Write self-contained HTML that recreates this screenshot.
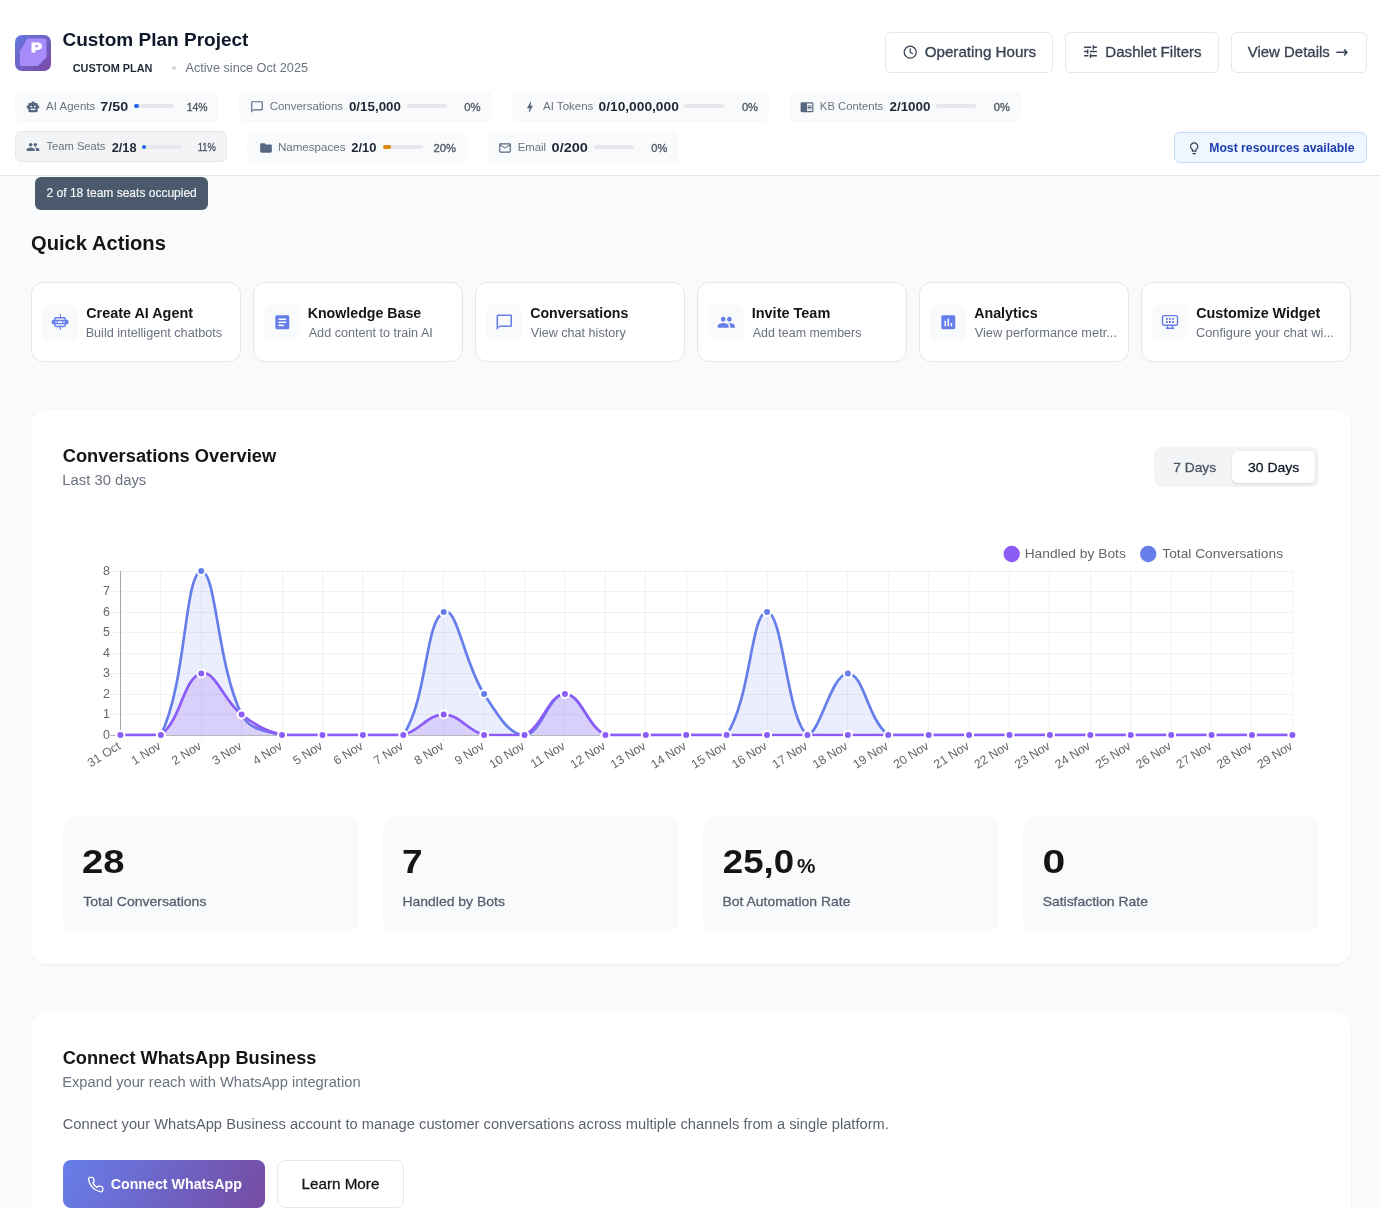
<!DOCTYPE html>
<html lang="en">
<head>
<meta charset="utf-8">
<title>Custom Plan Project</title>
<style>
*{box-sizing:border-box;margin:0;padding:0}
html,body{width:1380px;height:1208px;overflow:hidden}
body{font-family:"Liberation Sans",sans-serif;background:#f9fafb;color:#111827;position:relative}
.t{position:absolute;white-space:nowrap;display:block;transform-origin:0 0}
svg{display:block;overflow:visible}
</style>
</head>
<body>
<div style="position:absolute;left:0.00px;top:0.00px;width:1380.00px;height:176.00px;background:#fff;border-bottom:1px solid #e5e7eb"></div>
<svg style="position:absolute;left:15.00px;top:35.00px;" width="36" height="36" viewBox="0 0 36 36">
<defs><linearGradient id="lg" x1="0" y1="0" x2="1" y2="1"><stop offset="0" stop-color="#6678e2"/><stop offset="1" stop-color="#7a4aa6"/></linearGradient></defs>
<rect width="36" height="36" rx="7" fill="url(#lg)"/>
<path d="M13.5 3.5H29.5a2 2 0 0 1 2 2V21.5a2 2 0 0 1 -.6 1.4L23.4 30.4a2 2 0 0 1 -1.4.6H6.8a2 2 0 0 1 -2-2V17a2 2 0 0 1 .3-1L11.8 4.5a2 2 0 0 1 1.7-1z" fill="#a78bfa"/>
<text transform="translate(16.300 16.600) scale(1.27 1)" font-family="Liberation Sans, sans-serif" font-size="12.500" font-weight="bold" fill="#fff" stroke="#fff" stroke-width="1.200" stroke-linejoin="miter">P</text>
</svg>
<span id="title" class="t" style="left:62px;top:29px;font-size:18px;line-height:22px;font-weight:bold;color:#0f172a;transform:translate(0.39px,0.36px) scaleX(1.0570);">Custom Plan Project</span>
<span id="plan" class="t" style="left:72px;top:61px;font-size:10px;line-height:14px;font-weight:bold;color:#1f2937;transform:translate(0.65px,0.73px) scaleX(1.0907);">CUSTOM PLAN</span>
<div style="position:absolute;left:171.80px;top:66.30px;width:4.00px;height:4.00px;border-radius:50%;background:#d1d5db"></div>
<span id="since" class="t" style="left:185px;top:60px;font-size:12px;line-height:16px;font-weight:normal;color:#6b7280;transform:translate(0.50px,0.04px) scaleX(1.0555);">Active since Oct 2025</span>
<div style="position:absolute;left:885.00px;top:32.00px;width:168.00px;height:41.00px;border:1px solid #e5e7eb;border-radius:6px;background:#fff"></div>
<div style="position:absolute;left:1065.00px;top:32.00px;width:154.00px;height:41.00px;border:1px solid #e5e7eb;border-radius:6px;background:#fff"></div>
<div style="position:absolute;left:1231.00px;top:32.00px;width:136.00px;height:41.00px;border:1px solid #e5e7eb;border-radius:6px;background:#fff"></div>
<svg style="position:absolute;left:902.50px;top:45.30px;" width="14.4" height="14.4" viewBox="0 0 24 24"><circle cx="12" cy="12" r="10" fill="none" stroke="#374151" stroke-width="2"/><path d="M12 6.5V12l3.8 2.3" fill="none" stroke="#374151" stroke-width="2" stroke-linecap="round" stroke-linejoin="round"/></svg>
<span id="b1" class="t" style="left:924px;top:43px;font-size:14.2px;line-height:18.2px;font-weight:normal;color:#374151;transform:translate(0.68px,0.08px) scaleX(1.0700);-webkit-text-stroke:.28px currentColor;">Operating Hours</span>
<svg style="position:absolute;left:1081.80px;top:43.30px;" width="17" height="17" viewBox="0 0 24 24"><path d="M3 17v2h6v-2H3zM3 5v2h10V5H3zm10 16v-2h8v-2h-8v-2h-2v6h2zM7 9v2H3v2h4v2h2V9H7zm14 4v-2H11v2h10zm-6-4h2V7h4V5h-4V3h-2v6z" fill="#374151"/></svg>
<span id="b2" class="t" style="left:1105px;top:43px;font-size:14.2px;line-height:18.2px;font-weight:normal;color:#374151;transform:translate(0.36px,0.08px) scaleX(1.0614);-webkit-text-stroke:.28px currentColor;">Dashlet Filters</span>
<span id="b3" class="t" style="left:1247px;top:43px;font-size:14.2px;line-height:18.2px;font-weight:normal;color:#374151;transform:translate(0.67px,0.08px) scaleX(1.0552);-webkit-text-stroke:.28px currentColor;">View Details</span>
<span id="arr" class="t" style="left:1335px;top:42px;font-size:15.5px;line-height:19.5px;font-weight:normal;color:#374151;transform:translate(0.75px,0.88px) scaleX(0.9593);-webkit-text-stroke:.28px currentColor;font-family:DejaVu Sans,Liberation Sans,sans-serif;">→</span>
<div style="position:absolute;left:15.00px;top:91.00px;width:204.00px;height:30.50px;background:#f9fafb;border-radius:6px"></div>
<svg style="position:absolute;left:26.00px;top:99.90px;" width="14" height="14" viewBox="0 0 24 24"><path d="M20 9V7c0-1.100-.9-2-2-2h-3c0-1.660-1.340-3-3-3S9 3.340 9 5H6c-1.100 0-2 .9-2 2v2c-1.660 0-3 1.340-3 3s1.340 3 3 3v4c0 1.100.9 2 2 2h12c1.100 0 2-.9 2-2v-4c1.660 0 3-1.340 3-3s-1.340-3-3-3zM7.500 11.500c0-.83.670-1.500 1.500-1.500s1.500.670 1.500 1.500S9.830 13 9 13s-1.500-.670-1.500-1.500zM16 17H8v-2h8v2zm-1-4c-.83 0-1.500-.670-1.500-1.500S14.170 10 15 10s1.500.670 1.500 1.500S15.830 13 15 13z" fill="#586883"/></svg>
<span id="c1l" class="t" style="left:46px;top:99px;font-size:11px;line-height:15px;font-weight:normal;color:#6b7280;transform:translate(0.10px,0.19px) scaleX(1.0423);">AI Agents</span>
<span id="c1v" class="t" style="left:100px;top:99px;font-size:12px;line-height:16px;font-weight:bold;color:#1f2937;transform:translate(0.27px,0.24px) scaleX(1.1938);">7/50</span>
<div style="position:absolute;left:134.00px;top:104.30px;width:40.00px;height:4.20px;background:#e5e7eb;border-radius:2px"><div style="width:4.8px;height:4px;border-radius:2px;background:#2563eb"></div></div>
<span id="c1p" class="t" style="left:186px;top:101px;font-size:10px;line-height:14px;font-weight:normal;color:#4b5563;transform:translate(0.67px,0.14px) scaleX(1.0453);-webkit-text-stroke:.28px currentColor;">14%</span>
<div style="position:absolute;left:239.00px;top:91.00px;width:252.80px;height:30.50px;background:#f9fafb;border-radius:6px"></div>
<svg style="position:absolute;left:249.60px;top:99.90px;" width="14" height="14" viewBox="0 0 24 24"><path d="M20 2H4c-1.100 0-2 .9-2 2v18l4-4h14c1.100 0 2-.9 2-2V4c0-1.100-.9-2-2-2zm0 14H6l-2 2V4h16v12z" fill="#586883"/></svg>
<span id="c2l" class="t" style="left:269px;top:99px;font-size:11px;line-height:15px;font-weight:normal;color:#6b7280;transform:translate(0.67px,0.19px) scaleX(1.0433);">Conversations</span>
<span id="c2v" class="t" style="left:348px;top:99px;font-size:12px;line-height:16px;font-weight:bold;color:#1f2937;transform:translate(0.94px,0.24px) scaleX(1.1126);">0/15,000</span>
<div style="position:absolute;left:407.20px;top:104.30px;width:40.00px;height:4.20px;background:#e5e7eb;border-radius:2px"></div>
<span id="c2p" class="t" style="left:464px;top:101px;font-size:10px;line-height:14px;font-weight:normal;color:#4b5563;transform:translate(0.16px,0.14px) scaleX(1.1299);-webkit-text-stroke:.28px currentColor;">0%</span>
<div style="position:absolute;left:512.20px;top:91.00px;width:256.80px;height:30.50px;background:#f9fafb;border-radius:6px"></div>
<svg style="position:absolute;left:522.50px;top:99.90px;" width="14" height="14" viewBox="0 0 24 24"><path d="M11 21h-1l1-7H7.500c-.58 0-.57-.32-.38-.66.190-.34.050-.08.070-.12C8.480 10.940 10.420 7.540 13 3h1l-1 7h3.500c.49 0 .56.330.47.510l-.7.150C12.960 17.550 11 21 11 21z" fill="#586883"/></svg>
<span id="c3l" class="t" style="left:543px;top:99px;font-size:11px;line-height:15px;font-weight:normal;color:#6b7280;transform:translate(0.00px,0.19px) scaleX(1.0471);">AI Tokens</span>
<span id="c3v" class="t" style="left:598px;top:99px;font-size:12px;line-height:16px;font-weight:bold;color:#1f2937;transform:translate(0.51px,0.24px) scaleX(1.1462);">0/10,000,000</span>
<div style="position:absolute;left:683.90px;top:104.30px;width:40.00px;height:4.20px;background:#e5e7eb;border-radius:2px"></div>
<span id="c3p" class="t" style="left:741px;top:101px;font-size:10px;line-height:14px;font-weight:normal;color:#4b5563;transform:translate(0.91px,0.14px) scaleX(1.1174);-webkit-text-stroke:.28px currentColor;">0%</span>
<div style="position:absolute;left:789.30px;top:91.00px;width:231.70px;height:30.50px;background:#f9fafb;border-radius:6px"></div>
<svg style="position:absolute;left:800.10px;top:99.90px;" width="14" height="14" viewBox="0 0 24 24"><path d="M13 12h7v1.500h-7zm0-2.500h7V11h-7zm0 5h7V16h-7zM21 4H3c-1.100 0-2 .9-2 2v13c0 1.100.9 2 2 2h18c1.100 0 2-.9 2-2V6c0-1.100-.9-2-2-2zm0 15h-9V6h9v13z" fill="#586883"/></svg>
<span id="c4l" class="t" style="left:819px;top:99px;font-size:11px;line-height:15px;font-weight:normal;color:#6b7280;transform:translate(0.85px,0.19px) scaleX(1.0268);">KB Contents</span>
<span id="c4v" class="t" style="left:889px;top:99px;font-size:12px;line-height:16px;font-weight:bold;color:#1f2937;transform:translate(0.44px,0.24px) scaleX(1.1189);">2/1000</span>
<div style="position:absolute;left:936.30px;top:104.30px;width:40.00px;height:4.20px;background:#e5e7eb;border-radius:2px"></div>
<span id="c4p" class="t" style="left:993px;top:101px;font-size:10px;line-height:14px;font-weight:normal;color:#4b5563;transform:translate(0.79px,0.14px) scaleX(1.1169);-webkit-text-stroke:.28px currentColor;">0%</span>
<div style="position:absolute;left:15.00px;top:131.30px;width:212.00px;height:30.50px;background:#f3f4f6;border-radius:6px;border:1px solid #e5e7eb"></div>
<svg style="position:absolute;left:26.00px;top:139.80px;" width="14" height="14" viewBox="0 0 24 24"><path d="M16 11c1.660 0 2.990-1.340 2.990-3S17.660 5 16 5c-1.660 0-3 1.340-3 3s1.340 3 3 3zm-8 0c1.660 0 2.990-1.340 2.990-3S9.660 5 8 5C6.340 5 5 6.340 5 8s1.340 3 3 3zm0 2c-2.330 0-7 1.170-7 3.500V19h14v-2.500c0-2.330-4.670-3.500-7-3.500zm8 0c-.29 0-.62.020-.97.050 1.160.84 1.970 1.970 1.970 3.450V19h6v-2.500c0-2.330-4.670-3.500-7-3.500z" fill="#586883"/></svg>
<span id="c5l" class="t" style="left:46px;top:139px;font-size:11px;line-height:15px;font-weight:normal;color:#6b7280;transform:translate(0.45px,0.49px) scaleX(1.0160);">Team Seats</span>
<span id="c5v" class="t" style="left:111px;top:139px;font-size:12px;line-height:16px;font-weight:bold;color:#1f2937;transform:translate(0.70px,0.54px) scaleX(1.0661);">2/18</span>
<div style="position:absolute;left:141.70px;top:144.60px;width:40.00px;height:4.20px;background:#e5e7eb;border-radius:2px"><div style="width:4.4px;height:4px;border-radius:2px;background:#2563eb"></div></div>
<span id="c5p" class="t" style="left:197px;top:141px;font-size:10px;line-height:14px;font-weight:normal;color:#4b5563;transform:translate(0.65px,0.44px) scaleX(0.9375);-webkit-text-stroke:.28px currentColor;">11%</span>
<div style="position:absolute;left:247.10px;top:132.00px;width:220.90px;height:30.50px;background:#f9fafb;border-radius:6px"></div>
<svg style="position:absolute;left:258.50px;top:140.90px;" width="14" height="14" viewBox="0 0 24 24"><path d="M10 4H4c-1.100 0-1.990.9-1.990 2L2 18c0 1.100.9 2 2 2h16c1.100 0 2-.9 2-2V8c0-1.100-.9-2-2-2h-8l-2-2z" fill="#586883"/></svg>
<span id="c6l" class="t" style="left:277px;top:140px;font-size:11px;line-height:15px;font-weight:normal;color:#6b7280;transform:translate(0.94px,0.19px) scaleX(1.0518);">Namespaces</span>
<span id="c6v" class="t" style="left:351px;top:140px;font-size:12px;line-height:16px;font-weight:bold;color:#1f2937;transform:translate(0.29px,0.24px) scaleX(1.0805);">2/10</span>
<div style="position:absolute;left:383.10px;top:145.30px;width:40.00px;height:4.20px;background:#e5e7eb;border-radius:2px"><div style="width:8px;height:4px;border-radius:2px;background:#e08608"></div></div>
<span id="c6p" class="t" style="left:433px;top:142px;font-size:10px;line-height:14px;font-weight:normal;color:#4b5563;transform:translate(0.61px,0.13px) scaleX(1.1188);-webkit-text-stroke:.28px currentColor;">20%</span>
<div style="position:absolute;left:488.30px;top:132.00px;width:190.70px;height:30.50px;background:#f9fafb;border-radius:6px"></div>
<svg style="position:absolute;left:498.30px;top:140.90px;" width="14" height="14" viewBox="0 0 24 24"><path d="M20 4H4c-1.100 0-1.990.9-1.990 2L2 18c0 1.100.9 2 2 2h16c1.100 0 2-.9 2-2V6c0-1.100-.9-2-2-2zm0 14H4V8l8 5 8-5v10zm-8-7L4 6h16l-8 5z" fill="#586883"/></svg>
<span id="c7l" class="t" style="left:517px;top:140px;font-size:11px;line-height:15px;font-weight:normal;color:#6b7280;transform:translate(0.67px,0.19px) scaleX(1.0290);">Email</span>
<span id="c7v" class="t" style="left:551px;top:140px;font-size:12px;line-height:16px;font-weight:bold;color:#1f2937;transform:translate(0.61px,0.24px) scaleX(1.2069);">0/200</span>
<div style="position:absolute;left:594.10px;top:145.30px;width:40.00px;height:4.20px;background:#e5e7eb;border-radius:2px"></div>
<span id="c7p" class="t" style="left:651px;top:142px;font-size:10px;line-height:14px;font-weight:normal;color:#4b5563;transform:translate(0.37px,0.13px) scaleX(1.1023);-webkit-text-stroke:.28px currentColor;">0%</span>
<div style="position:absolute;left:1174.00px;top:132.00px;width:193.00px;height:30.50px;background:#eff6ff;border:1px solid #bfdbfe;border-radius:6px"></div>
<svg style="position:absolute;left:1186.90px;top:140.80px;" width="14.4" height="14.4" viewBox="0 0 24 24"><path d="M9 21c0 .55.450 1 1 1h4c.55 0 1-.45 1-1v-1H9v1zm3-19C8.140 2 5 5.140 5 9c0 2.380 1.190 4.470 3 5.740V17c0 .55.450 1 1 1h6c.55 0 1-.45 1-1v-2.260c1.810-1.270 3-3.360 3-5.740 0-3.860-3.140-7-7-7zm2.850 11.100l-.85.600V16h-4v-2.300l-.85-.6C7.800 12.160 7 10.630 7 9c0-2.760 2.240-5 5-5s5 2.240 5 5c0 1.630-.8 3.160-2.150 4.100z" fill="#374151"/></svg>
<span id="mra" class="t" style="left:1209px;top:139px;font-size:12px;line-height:16px;font-weight:bold;color:#1e40af;transform:translate(0.22px,0.84px) scaleX(1.0177);">Most resources available</span>
<div style="position:absolute;left:35.00px;top:177.00px;width:173.00px;height:33.00px;background:#4a596b;border-radius:6px"></div>
<span id="tip" class="t" style="left:46px;top:184px;font-size:12px;line-height:16px;font-weight:normal;color:#f3f5f8;transform:translate(0.57px,0.94px) scaleX(1.0009);-webkit-text-stroke:.2px currentColor;">2 of 18 team seats occupied</span>
<span id="qa" class="t" style="left:30px;top:231px;font-size:20px;line-height:24px;font-weight:bold;color:#151515;transform:translate(0.95px,0.07px) scaleX(1.0090);">Quick Actions</span>
<div style="position:absolute;left:31.00px;top:282.00px;width:210.00px;height:79.50px;background:#fff;border:1px solid #e5e7eb;border-radius:12px"></div>
<div style="position:absolute;left:42.00px;top:304.00px;width:36.00px;height:36.00px;background:#f9fafb;border-radius:8px"></div>
<svg style="position:absolute;left:52.00px;top:314.00px;" width="16" height="16" viewBox="0 0 16 16"><g fill="none" stroke="#667eea"><rect x="2.700" y="3.700" width="10.700" height="8.700" rx="1.600" stroke-width="1.500"/><rect x="0.900" y="6.450" width="14.300" height="3.200" rx="1.600" stroke-width="1.400"/><path d="M5.300 6.500v3.100M10.800 6.500v3.100" stroke-width="1.200"/><path d="M8.350 0v3.700M8.350 12.400v3.500" stroke-width="1.100"/><path d="M2.300 5.800h-.5a2.200 2.200 0 0 0 0 4.400h.5zM13.900 5.800h.5a2.200 2.200 0 0 1 0 4.400h-.5z" fill="#667eea" stroke="none"/></g></svg>
<span id="q1t" class="t" style="left:86px;top:304px;font-size:14px;line-height:18px;font-weight:bold;color:#151515;transform:translate(0.20px,0.45px) scaleX(1.0266);">Create AI Agent</span>
<span id="q1d" class="t" style="left:85px;top:324px;font-size:12px;line-height:16px;font-weight:normal;color:#6b7280;transform:translate(0.64px,0.64px) scaleX(1.0547);">Build intelligent chatbots</span>
<div style="position:absolute;left:253.00px;top:282.00px;width:210.00px;height:79.50px;background:#fff;border:1px solid #e5e7eb;border-radius:12px"></div>
<div style="position:absolute;left:264.00px;top:304.00px;width:36.00px;height:36.00px;background:#f9fafb;border-radius:8px"></div>
<svg style="position:absolute;left:272.70px;top:312.70px;" width="18.6" height="18.6" viewBox="0 0 24 24"><path d="M19 3H5c-1.100 0-2 .9-2 2v14c0 1.100.9 2 2 2h14c1.100 0 2-.9 2-2V5c0-1.100-.9-2-2-2zm-5 14H7v-2h7v2zm3-4H7v-2h10v2zm0-4H7V7h10v2z" fill="#667eea"/></svg>
<span id="q2t" class="t" style="left:307px;top:304px;font-size:14px;line-height:18px;font-weight:bold;color:#151515;transform:translate(0.67px,0.45px) scaleX(1.0136);">Knowledge Base</span>
<span id="q2d" class="t" style="left:308px;top:324px;font-size:12px;line-height:16px;font-weight:normal;color:#6b7280;transform:translate(0.70px,0.64px) scaleX(1.0513);">Add content to train AI</span>
<div style="position:absolute;left:475.00px;top:282.00px;width:210.00px;height:79.50px;background:#fff;border:1px solid #e5e7eb;border-radius:12px"></div>
<div style="position:absolute;left:486.00px;top:304.00px;width:36.00px;height:36.00px;background:#f9fafb;border-radius:8px"></div>
<svg style="position:absolute;left:494.70px;top:312.70px;" width="18.6" height="18.6" viewBox="0 0 24 24"><path d="M20 2H4c-1.100 0-2 .9-2 2v18l4-4h14c1.100 0 2-.9 2-2V4c0-1.100-.9-2-2-2zm0 14H6l-2 2V4h16v12z" fill="#667eea"/></svg>
<span id="q3t" class="t" style="left:530px;top:304px;font-size:14px;line-height:18px;font-weight:bold;color:#151515;transform:translate(0.22px,0.45px) scaleX(1.0078);">Conversations</span>
<span id="q3d" class="t" style="left:530px;top:324px;font-size:12px;line-height:16px;font-weight:normal;color:#6b7280;transform:translate(0.72px,0.64px) scaleX(1.0498);">View chat history</span>
<div style="position:absolute;left:697.00px;top:282.00px;width:210.00px;height:79.50px;background:#fff;border:1px solid #e5e7eb;border-radius:12px"></div>
<div style="position:absolute;left:708.00px;top:304.00px;width:36.00px;height:36.00px;background:#f9fafb;border-radius:8px"></div>
<svg style="position:absolute;left:716.70px;top:312.70px;" width="18.6" height="18.6" viewBox="0 0 24 24"><path d="M16 11c1.660 0 2.990-1.340 2.990-3S17.660 5 16 5c-1.660 0-3 1.340-3 3s1.340 3 3 3zm-8 0c1.660 0 2.990-1.340 2.990-3S9.660 5 8 5C6.340 5 5 6.340 5 8s1.340 3 3 3zm0 2c-2.330 0-7 1.170-7 3.500V19h14v-2.500c0-2.330-4.670-3.500-7-3.500zm8 0c-.29 0-.62.020-.97.050 1.160.84 1.970 1.970 1.970 3.450V19h6v-2.500c0-2.330-4.670-3.500-7-3.500z" fill="#667eea"/></svg>
<span id="q4t" class="t" style="left:751px;top:304px;font-size:14px;line-height:18px;font-weight:bold;color:#151515;transform:translate(0.70px,0.45px) scaleX(1.0343);">Invite Team</span>
<span id="q4d" class="t" style="left:752px;top:324px;font-size:12px;line-height:16px;font-weight:normal;color:#6b7280;transform:translate(0.70px,0.64px) scaleX(1.0377);">Add team members</span>
<div style="position:absolute;left:919.00px;top:282.00px;width:210.00px;height:79.50px;background:#fff;border:1px solid #e5e7eb;border-radius:12px"></div>
<div style="position:absolute;left:930.00px;top:304.00px;width:36.00px;height:36.00px;background:#f9fafb;border-radius:8px"></div>
<svg style="position:absolute;left:938.70px;top:312.70px;" width="18.6" height="18.6" viewBox="0 0 24 24"><path d="M19 3H5c-1.100 0-2 .9-2 2v14c0 1.100.9 2 2 2h14c1.100 0 2-.9 2-2V5c0-1.100-.9-2-2-2zM9 17H7v-7h2v7zm4 0h-2V7h2v10zm4 0h-2v-4h2v4z" fill="#667eea"/></svg>
<span id="q5t" class="t" style="left:974px;top:304px;font-size:14px;line-height:18px;font-weight:bold;color:#151515;transform:translate(0.17px,0.45px) scaleX(1.0184);">Analytics</span>
<span id="q5d" class="t" style="left:974px;top:324px;font-size:12px;line-height:16px;font-weight:normal;color:#6b7280;transform:translate(0.70px,0.64px) scaleX(1.0682);">View performance metr...</span>
<div style="position:absolute;left:1141.00px;top:282.00px;width:210.00px;height:79.50px;background:#fff;border:1px solid #e5e7eb;border-radius:12px"></div>
<div style="position:absolute;left:1152.00px;top:304.00px;width:36.00px;height:36.00px;background:#f9fafb;border-radius:8px"></div>
<svg style="position:absolute;left:1162.00px;top:314.00px;" width="16" height="16" viewBox="0 0 16 16"><g fill="none" stroke="#667eea"><rect x="0.500" y="1.600" width="15" height="9.700" rx="1.500" stroke-width="1.400"/><path d="M5.500 11.600v2.400M10.400 11.600v2.400" stroke-width="1.300"/><path d="M3.800 14.300h8.400" stroke-width="1.500"/><path d="M4 4.900h7.900M4 8h7.900" stroke-width="1.800" stroke-dasharray="1.800 1.250"/></g></svg>
<span id="q6t" class="t" style="left:1196px;top:304px;font-size:14px;line-height:18px;font-weight:bold;color:#151515;transform:translate(0.14px,0.45px) scaleX(1.0237);">Customize Widget</span>
<span id="q6d" class="t" style="left:1195px;top:324px;font-size:12px;line-height:16px;font-weight:normal;color:#6b7280;transform:translate(0.92px,0.64px) scaleX(1.0666);">Configure your chat wi...</span>
<div style="position:absolute;left:31.00px;top:410.00px;width:1320.00px;height:554.00px;background:#fff;border-radius:16px;box-shadow:0 1px 3px rgba(0,0,0,.05)"></div>
<span id="co" class="t" style="left:62px;top:444px;font-size:18px;line-height:22px;font-weight:bold;color:#151515;transform:translate(0.72px,0.76px) scaleX(1.0161);">Conversations Overview</span>
<span id="l30" class="t" style="left:62px;top:471px;font-size:14px;line-height:18px;font-weight:normal;color:#6b7280;transform:translate(0.36px,0.15px) scaleX(1.0566);">Last 30 days</span>
<div style="position:absolute;left:1154.20px;top:447.40px;width:164.90px;height:39.60px;background:#f3f4f6;border-radius:8px"></div>
<div style="position:absolute;left:1231.80px;top:451.00px;width:83.30px;height:32.00px;background:#fff;border-radius:6px;box-shadow:0 1px 3px rgba(0,0,0,.12)"></div>
<span id="d7" class="t" style="left:1173px;top:458px;font-size:13px;line-height:17px;font-weight:normal;color:#4b5563;transform:translate(0.20px,0.60px) scaleX(1.0593);-webkit-text-stroke:.28px currentColor;">7 Days</span>
<span id="d30" class="t" style="left:1247px;top:458px;font-size:13px;line-height:17px;font-weight:normal;color:#111827;transform:translate(0.94px,0.60px) scaleX(1.0767);-webkit-text-stroke:.28px currentColor;">30 Days</span>
<svg style="position:absolute;left:0;top:0" width="1380" height="1208" viewBox="0 0 1380 1208" font-family="Liberation Sans, sans-serif"><path d="M120.5 571.0V743.0" stroke="rgba(0,0,0,.05)" stroke-width="1"/><path d="M160.5 571.0V743.0" stroke="rgba(0,0,0,.05)" stroke-width="1"/><path d="M201.5 571.0V743.0" stroke="rgba(0,0,0,.05)" stroke-width="1"/><path d="M241.5 571.0V743.0" stroke="rgba(0,0,0,.05)" stroke-width="1"/><path d="M282.5 571.0V743.0" stroke="rgba(0,0,0,.05)" stroke-width="1"/><path d="M322.5 571.0V743.0" stroke="rgba(0,0,0,.05)" stroke-width="1"/><path d="M362.5 571.0V743.0" stroke="rgba(0,0,0,.05)" stroke-width="1"/><path d="M403.5 571.0V743.0" stroke="rgba(0,0,0,.05)" stroke-width="1"/><path d="M443.5 571.0V743.0" stroke="rgba(0,0,0,.05)" stroke-width="1"/><path d="M484.5 571.0V743.0" stroke="rgba(0,0,0,.05)" stroke-width="1"/><path d="M524.5 571.0V743.0" stroke="rgba(0,0,0,.05)" stroke-width="1"/><path d="M564.5 571.0V743.0" stroke="rgba(0,0,0,.05)" stroke-width="1"/><path d="M605.5 571.0V743.0" stroke="rgba(0,0,0,.05)" stroke-width="1"/><path d="M645.5 571.0V743.0" stroke="rgba(0,0,0,.05)" stroke-width="1"/><path d="M686.5 571.0V743.0" stroke="rgba(0,0,0,.05)" stroke-width="1"/><path d="M726.5 571.0V743.0" stroke="rgba(0,0,0,.05)" stroke-width="1"/><path d="M767.5 571.0V743.0" stroke="rgba(0,0,0,.05)" stroke-width="1"/><path d="M807.5 571.0V743.0" stroke="rgba(0,0,0,.05)" stroke-width="1"/><path d="M847.5 571.0V743.0" stroke="rgba(0,0,0,.05)" stroke-width="1"/><path d="M888.5 571.0V743.0" stroke="rgba(0,0,0,.05)" stroke-width="1"/><path d="M928.5 571.0V743.0" stroke="rgba(0,0,0,.05)" stroke-width="1"/><path d="M969.5 571.0V743.0" stroke="rgba(0,0,0,.05)" stroke-width="1"/><path d="M1009.5 571.0V743.0" stroke="rgba(0,0,0,.05)" stroke-width="1"/><path d="M1049.5 571.0V743.0" stroke="rgba(0,0,0,.05)" stroke-width="1"/><path d="M1090.5 571.0V743.0" stroke="rgba(0,0,0,.05)" stroke-width="1"/><path d="M1130.5 571.0V743.0" stroke="rgba(0,0,0,.05)" stroke-width="1"/><path d="M1171.5 571.0V743.0" stroke="rgba(0,0,0,.05)" stroke-width="1"/><path d="M1211.5 571.0V743.0" stroke="rgba(0,0,0,.05)" stroke-width="1"/><path d="M1251.5 571.0V743.0" stroke="rgba(0,0,0,.05)" stroke-width="1"/><path d="M1292.5 571.0V743.0" stroke="rgba(0,0,0,.05)" stroke-width="1"/><path d="M110.4 735.5H1292.9" stroke="rgba(0,0,0,.05)" stroke-width="1"/><path d="M110.4 714.5H1292.9" stroke="rgba(0,0,0,.05)" stroke-width="1"/><path d="M110.4 694.5H1292.9" stroke="rgba(0,0,0,.05)" stroke-width="1"/><path d="M110.4 673.5H1292.9" stroke="rgba(0,0,0,.05)" stroke-width="1"/><path d="M110.4 653.5H1292.9" stroke="rgba(0,0,0,.05)" stroke-width="1"/><path d="M110.4 632.5H1292.9" stroke="rgba(0,0,0,.05)" stroke-width="1"/><path d="M110.4 612.5H1292.9" stroke="rgba(0,0,0,.05)" stroke-width="1"/><path d="M110.4 591.5H1292.9" stroke="rgba(0,0,0,.05)" stroke-width="1"/><path d="M110.4 571.5H1292.9" stroke="rgba(0,0,0,.05)" stroke-width="1"/><path d="M120.500 571.0V735.5" stroke="#a6a6a6" stroke-width="1"/><path d="M110.5 735.500H1292.9" stroke="#b8b8b8" stroke-width="1"/><clipPath id="cl"><rect x="118.9" y="569.5" width="1175.0" height="167.0"/></clipPath><g clip-path="url(#cl)"><path d="M120.40 735.00C136.57 735.00 154.57 735.00 160.81 735.00C186.90 682.07 184.05 575.36 201.23 571.00C216.39 571.00 216.85 664.19 241.64 714.50C249.18 729.79 264.97 730.67 282.06 735.00C297.30 735.00 306.30 735.00 322.47 735.00C338.63 735.00 346.72 735.00 362.88 735.00C379.05 735.00 395.61 735.00 403.30 735.00C427.94 697.50 424.76 621.61 443.71 612.00C457.09 605.21 464.29 663.81 484.12 694.00C496.62 713.01 508.37 735.00 524.54 735.00C540.70 735.00 548.79 694.00 564.95 694.00C581.12 694.00 586.37 725.36 605.37 735.00C618.70 735.00 629.61 735.00 645.78 735.00C661.94 735.00 670.03 735.00 686.19 735.00C702.36 735.00 718.92 735.00 726.61 735.00C751.25 697.50 750.86 612.00 767.02 612.00C783.19 612.00 786.82 719.32 807.43 735.00C819.15 735.00 831.68 673.50 847.85 673.50C864.01 673.50 867.39 719.12 888.26 735.00C899.72 735.00 912.51 735.00 928.68 735.00C944.84 735.00 952.92 735.00 969.09 735.00C985.26 735.00 993.34 735.00 1009.50 735.00C1025.67 735.00 1033.75 735.00 1049.92 735.00C1066.08 735.00 1074.17 735.00 1090.33 735.00C1106.50 735.00 1114.58 735.00 1130.74 735.00C1146.91 735.00 1154.99 735.00 1171.16 735.00C1187.32 735.00 1195.41 735.00 1211.57 735.00C1227.74 735.00 1235.82 735.00 1251.99 735.00C1268.15 735.00 1276.23 735.00 1292.40 735.00L1292.40 735.0L120.40 735.0Z" fill="rgba(102,126,234,.13)"/><path d="M120.40 735.00C136.57 735.00 154.57 735.00 160.81 735.00C186.90 682.07 184.05 575.36 201.23 571.00C216.39 571.00 216.85 664.19 241.64 714.50C249.18 729.79 264.97 730.67 282.06 735.00C297.30 735.00 306.30 735.00 322.47 735.00C338.63 735.00 346.72 735.00 362.88 735.00C379.05 735.00 395.61 735.00 403.30 735.00C427.94 697.50 424.76 621.61 443.71 612.00C457.09 605.21 464.29 663.81 484.12 694.00C496.62 713.01 508.37 735.00 524.54 735.00C540.70 735.00 548.79 694.00 564.95 694.00C581.12 694.00 586.37 725.36 605.37 735.00C618.70 735.00 629.61 735.00 645.78 735.00C661.94 735.00 670.03 735.00 686.19 735.00C702.36 735.00 718.92 735.00 726.61 735.00C751.25 697.50 750.86 612.00 767.02 612.00C783.19 612.00 786.82 719.32 807.43 735.00C819.15 735.00 831.68 673.50 847.85 673.50C864.01 673.50 867.39 719.12 888.26 735.00C899.72 735.00 912.51 735.00 928.68 735.00C944.84 735.00 952.92 735.00 969.09 735.00C985.26 735.00 993.34 735.00 1009.50 735.00C1025.67 735.00 1033.75 735.00 1049.92 735.00C1066.08 735.00 1074.17 735.00 1090.33 735.00C1106.50 735.00 1114.58 735.00 1130.74 735.00C1146.91 735.00 1154.99 735.00 1171.16 735.00C1187.32 735.00 1195.41 735.00 1211.57 735.00C1227.74 735.00 1235.82 735.00 1251.99 735.00C1268.15 735.00 1276.23 735.00 1292.40 735.00" fill="none" stroke="#667eea" stroke-width="2.700" stroke-linecap="butt" stroke-linejoin="miter"/></g><circle cx="120.40" cy="735.00" r="4" fill="#667eea" stroke="#fff" stroke-width="2"/><circle cx="160.81" cy="735.00" r="4" fill="#667eea" stroke="#fff" stroke-width="2"/><circle cx="201.23" cy="571.00" r="4" fill="#667eea" stroke="#fff" stroke-width="2"/><circle cx="241.64" cy="714.50" r="4" fill="#667eea" stroke="#fff" stroke-width="2"/><circle cx="282.06" cy="735.00" r="4" fill="#667eea" stroke="#fff" stroke-width="2"/><circle cx="322.47" cy="735.00" r="4" fill="#667eea" stroke="#fff" stroke-width="2"/><circle cx="362.88" cy="735.00" r="4" fill="#667eea" stroke="#fff" stroke-width="2"/><circle cx="403.30" cy="735.00" r="4" fill="#667eea" stroke="#fff" stroke-width="2"/><circle cx="443.71" cy="612.00" r="4" fill="#667eea" stroke="#fff" stroke-width="2"/><circle cx="484.12" cy="694.00" r="4" fill="#667eea" stroke="#fff" stroke-width="2"/><circle cx="524.54" cy="735.00" r="4" fill="#667eea" stroke="#fff" stroke-width="2"/><circle cx="564.95" cy="694.00" r="4" fill="#667eea" stroke="#fff" stroke-width="2"/><circle cx="605.37" cy="735.00" r="4" fill="#667eea" stroke="#fff" stroke-width="2"/><circle cx="645.78" cy="735.00" r="4" fill="#667eea" stroke="#fff" stroke-width="2"/><circle cx="686.19" cy="735.00" r="4" fill="#667eea" stroke="#fff" stroke-width="2"/><circle cx="726.61" cy="735.00" r="4" fill="#667eea" stroke="#fff" stroke-width="2"/><circle cx="767.02" cy="612.00" r="4" fill="#667eea" stroke="#fff" stroke-width="2"/><circle cx="807.43" cy="735.00" r="4" fill="#667eea" stroke="#fff" stroke-width="2"/><circle cx="847.85" cy="673.50" r="4" fill="#667eea" stroke="#fff" stroke-width="2"/><circle cx="888.26" cy="735.00" r="4" fill="#667eea" stroke="#fff" stroke-width="2"/><circle cx="928.68" cy="735.00" r="4" fill="#667eea" stroke="#fff" stroke-width="2"/><circle cx="969.09" cy="735.00" r="4" fill="#667eea" stroke="#fff" stroke-width="2"/><circle cx="1009.50" cy="735.00" r="4" fill="#667eea" stroke="#fff" stroke-width="2"/><circle cx="1049.92" cy="735.00" r="4" fill="#667eea" stroke="#fff" stroke-width="2"/><circle cx="1090.33" cy="735.00" r="4" fill="#667eea" stroke="#fff" stroke-width="2"/><circle cx="1130.74" cy="735.00" r="4" fill="#667eea" stroke="#fff" stroke-width="2"/><circle cx="1171.16" cy="735.00" r="4" fill="#667eea" stroke="#fff" stroke-width="2"/><circle cx="1211.57" cy="735.00" r="4" fill="#667eea" stroke="#fff" stroke-width="2"/><circle cx="1251.99" cy="735.00" r="4" fill="#667eea" stroke="#fff" stroke-width="2"/><circle cx="1292.40" cy="735.00" r="4" fill="#667eea" stroke="#fff" stroke-width="2"/><g clip-path="url(#cl)"><path d="M120.40 735.00C136.57 735.00 149.35 735.00 160.81 735.00C181.68 719.12 183.09 678.10 201.23 673.50C215.42 669.90 223.55 700.74 241.64 714.50C255.88 725.34 264.97 730.67 282.06 735.00C297.30 735.00 306.30 735.00 322.47 735.00C338.63 735.00 346.72 735.00 362.88 735.00C379.05 735.00 388.06 735.00 403.30 735.00C420.39 730.67 427.54 714.50 443.71 714.50C459.88 714.50 467.03 730.67 484.12 735.00C499.37 735.00 511.20 735.00 524.54 735.00C543.53 725.36 548.79 694.00 564.95 694.00C581.12 694.00 586.37 725.36 605.37 735.00C618.70 735.00 629.61 735.00 645.78 735.00C661.94 735.00 670.03 735.00 686.19 735.00C702.36 735.00 710.44 735.00 726.61 735.00C742.77 735.00 750.86 735.00 767.02 735.00C783.19 735.00 791.27 735.00 807.43 735.00C823.60 735.00 831.68 735.00 847.85 735.00C864.01 735.00 872.10 735.00 888.26 735.00C904.43 735.00 912.51 735.00 928.68 735.00C944.84 735.00 952.92 735.00 969.09 735.00C985.26 735.00 993.34 735.00 1009.50 735.00C1025.67 735.00 1033.75 735.00 1049.92 735.00C1066.08 735.00 1074.17 735.00 1090.33 735.00C1106.50 735.00 1114.58 735.00 1130.74 735.00C1146.91 735.00 1154.99 735.00 1171.16 735.00C1187.32 735.00 1195.41 735.00 1211.57 735.00C1227.74 735.00 1235.82 735.00 1251.99 735.00C1268.15 735.00 1276.23 735.00 1292.40 735.00L1292.40 735.0L120.40 735.0Z" fill="rgba(139,92,246,.2)"/><path d="M120.40 735.00C136.57 735.00 149.35 735.00 160.81 735.00C181.68 719.12 183.09 678.10 201.23 673.50C215.42 669.90 223.55 700.74 241.64 714.50C255.88 725.34 264.97 730.67 282.06 735.00C297.30 735.00 306.30 735.00 322.47 735.00C338.63 735.00 346.72 735.00 362.88 735.00C379.05 735.00 388.06 735.00 403.30 735.00C420.39 730.67 427.54 714.50 443.71 714.50C459.88 714.50 467.03 730.67 484.12 735.00C499.37 735.00 511.20 735.00 524.54 735.00C543.53 725.36 548.79 694.00 564.95 694.00C581.12 694.00 586.37 725.36 605.37 735.00C618.70 735.00 629.61 735.00 645.78 735.00C661.94 735.00 670.03 735.00 686.19 735.00C702.36 735.00 710.44 735.00 726.61 735.00C742.77 735.00 750.86 735.00 767.02 735.00C783.19 735.00 791.27 735.00 807.43 735.00C823.60 735.00 831.68 735.00 847.85 735.00C864.01 735.00 872.10 735.00 888.26 735.00C904.43 735.00 912.51 735.00 928.68 735.00C944.84 735.00 952.92 735.00 969.09 735.00C985.26 735.00 993.34 735.00 1009.50 735.00C1025.67 735.00 1033.75 735.00 1049.92 735.00C1066.08 735.00 1074.17 735.00 1090.33 735.00C1106.50 735.00 1114.58 735.00 1130.74 735.00C1146.91 735.00 1154.99 735.00 1171.16 735.00C1187.32 735.00 1195.41 735.00 1211.57 735.00C1227.74 735.00 1235.82 735.00 1251.99 735.00C1268.15 735.00 1276.23 735.00 1292.40 735.00" fill="none" stroke="#8b5cf6" stroke-width="2.700" stroke-linecap="butt" stroke-linejoin="miter"/></g><circle cx="120.40" cy="735.00" r="4" fill="#8b5cf6" stroke="#fff" stroke-width="2"/><circle cx="160.81" cy="735.00" r="4" fill="#8b5cf6" stroke="#fff" stroke-width="2"/><circle cx="201.23" cy="673.50" r="4" fill="#8b5cf6" stroke="#fff" stroke-width="2"/><circle cx="241.64" cy="714.50" r="4" fill="#8b5cf6" stroke="#fff" stroke-width="2"/><circle cx="282.06" cy="735.00" r="4" fill="#8b5cf6" stroke="#fff" stroke-width="2"/><circle cx="322.47" cy="735.00" r="4" fill="#8b5cf6" stroke="#fff" stroke-width="2"/><circle cx="362.88" cy="735.00" r="4" fill="#8b5cf6" stroke="#fff" stroke-width="2"/><circle cx="403.30" cy="735.00" r="4" fill="#8b5cf6" stroke="#fff" stroke-width="2"/><circle cx="443.71" cy="714.50" r="4" fill="#8b5cf6" stroke="#fff" stroke-width="2"/><circle cx="484.12" cy="735.00" r="4" fill="#8b5cf6" stroke="#fff" stroke-width="2"/><circle cx="524.54" cy="735.00" r="4" fill="#8b5cf6" stroke="#fff" stroke-width="2"/><circle cx="564.95" cy="694.00" r="4" fill="#8b5cf6" stroke="#fff" stroke-width="2"/><circle cx="605.37" cy="735.00" r="4" fill="#8b5cf6" stroke="#fff" stroke-width="2"/><circle cx="645.78" cy="735.00" r="4" fill="#8b5cf6" stroke="#fff" stroke-width="2"/><circle cx="686.19" cy="735.00" r="4" fill="#8b5cf6" stroke="#fff" stroke-width="2"/><circle cx="726.61" cy="735.00" r="4" fill="#8b5cf6" stroke="#fff" stroke-width="2"/><circle cx="767.02" cy="735.00" r="4" fill="#8b5cf6" stroke="#fff" stroke-width="2"/><circle cx="807.43" cy="735.00" r="4" fill="#8b5cf6" stroke="#fff" stroke-width="2"/><circle cx="847.85" cy="735.00" r="4" fill="#8b5cf6" stroke="#fff" stroke-width="2"/><circle cx="888.26" cy="735.00" r="4" fill="#8b5cf6" stroke="#fff" stroke-width="2"/><circle cx="928.68" cy="735.00" r="4" fill="#8b5cf6" stroke="#fff" stroke-width="2"/><circle cx="969.09" cy="735.00" r="4" fill="#8b5cf6" stroke="#fff" stroke-width="2"/><circle cx="1009.50" cy="735.00" r="4" fill="#8b5cf6" stroke="#fff" stroke-width="2"/><circle cx="1049.92" cy="735.00" r="4" fill="#8b5cf6" stroke="#fff" stroke-width="2"/><circle cx="1090.33" cy="735.00" r="4" fill="#8b5cf6" stroke="#fff" stroke-width="2"/><circle cx="1130.74" cy="735.00" r="4" fill="#8b5cf6" stroke="#fff" stroke-width="2"/><circle cx="1171.16" cy="735.00" r="4" fill="#8b5cf6" stroke="#fff" stroke-width="2"/><circle cx="1211.57" cy="735.00" r="4" fill="#8b5cf6" stroke="#fff" stroke-width="2"/><circle cx="1251.99" cy="735.00" r="4" fill="#8b5cf6" stroke="#fff" stroke-width="2"/><circle cx="1292.40" cy="735.00" r="4" fill="#8b5cf6" stroke="#fff" stroke-width="2"/><text x="110" y="738.9" text-anchor="end" font-size="12.500" fill="#666">0</text><text x="110" y="718.4" text-anchor="end" font-size="12.500" fill="#666">1</text><text x="110" y="697.9" text-anchor="end" font-size="12.500" fill="#666">2</text><text x="110" y="677.4" text-anchor="end" font-size="12.500" fill="#666">3</text><text x="110" y="656.9" text-anchor="end" font-size="12.500" fill="#666">4</text><text x="110" y="636.4" text-anchor="end" font-size="12.500" fill="#666">5</text><text x="110" y="615.9" text-anchor="end" font-size="12.500" fill="#666">6</text><text x="110" y="595.4" text-anchor="end" font-size="12.500" fill="#666">7</text><text x="110" y="574.9" text-anchor="end" font-size="12.500" fill="#666">8</text><text transform="translate(119.1 744.5) rotate(-32.2)" text-anchor="end" y="4.300" font-size="12.300" fill="#666">31 Oct</text><text transform="translate(159.5 744.5) rotate(-32.2)" text-anchor="end" y="4.300" font-size="12.300" fill="#666">1 Nov</text><text transform="translate(199.9 744.5) rotate(-32.2)" text-anchor="end" y="4.300" font-size="12.300" fill="#666">2 Nov</text><text transform="translate(240.3 744.5) rotate(-32.2)" text-anchor="end" y="4.300" font-size="12.300" fill="#666">3 Nov</text><text transform="translate(280.8 744.5) rotate(-32.2)" text-anchor="end" y="4.300" font-size="12.300" fill="#666">4 Nov</text><text transform="translate(321.2 744.5) rotate(-32.2)" text-anchor="end" y="4.300" font-size="12.300" fill="#666">5 Nov</text><text transform="translate(361.6 744.5) rotate(-32.2)" text-anchor="end" y="4.300" font-size="12.300" fill="#666">6 Nov</text><text transform="translate(402.0 744.5) rotate(-32.2)" text-anchor="end" y="4.300" font-size="12.300" fill="#666">7 Nov</text><text transform="translate(442.4 744.5) rotate(-32.2)" text-anchor="end" y="4.300" font-size="12.300" fill="#666">8 Nov</text><text transform="translate(482.8 744.5) rotate(-32.2)" text-anchor="end" y="4.300" font-size="12.300" fill="#666">9 Nov</text><text transform="translate(523.2 744.5) rotate(-32.2)" text-anchor="end" y="4.300" font-size="12.300" fill="#666">10 Nov</text><text transform="translate(563.7 744.5) rotate(-32.2)" text-anchor="end" y="4.300" font-size="12.300" fill="#666">11 Nov</text><text transform="translate(604.1 744.5) rotate(-32.2)" text-anchor="end" y="4.300" font-size="12.300" fill="#666">12 Nov</text><text transform="translate(644.5 744.5) rotate(-32.2)" text-anchor="end" y="4.300" font-size="12.300" fill="#666">13 Nov</text><text transform="translate(684.9 744.5) rotate(-32.2)" text-anchor="end" y="4.300" font-size="12.300" fill="#666">14 Nov</text><text transform="translate(725.3 744.5) rotate(-32.2)" text-anchor="end" y="4.300" font-size="12.300" fill="#666">15 Nov</text><text transform="translate(765.7 744.5) rotate(-32.2)" text-anchor="end" y="4.300" font-size="12.300" fill="#666">16 Nov</text><text transform="translate(806.1 744.5) rotate(-32.2)" text-anchor="end" y="4.300" font-size="12.300" fill="#666">17 Nov</text><text transform="translate(846.5 744.5) rotate(-32.2)" text-anchor="end" y="4.300" font-size="12.300" fill="#666">18 Nov</text><text transform="translate(887.0 744.5) rotate(-32.2)" text-anchor="end" y="4.300" font-size="12.300" fill="#666">19 Nov</text><text transform="translate(927.4 744.5) rotate(-32.2)" text-anchor="end" y="4.300" font-size="12.300" fill="#666">20 Nov</text><text transform="translate(967.8 744.5) rotate(-32.2)" text-anchor="end" y="4.300" font-size="12.300" fill="#666">21 Nov</text><text transform="translate(1008.2 744.5) rotate(-32.2)" text-anchor="end" y="4.300" font-size="12.300" fill="#666">22 Nov</text><text transform="translate(1048.6 744.5) rotate(-32.2)" text-anchor="end" y="4.300" font-size="12.300" fill="#666">23 Nov</text><text transform="translate(1089.0 744.5) rotate(-32.2)" text-anchor="end" y="4.300" font-size="12.300" fill="#666">24 Nov</text><text transform="translate(1129.4 744.5) rotate(-32.2)" text-anchor="end" y="4.300" font-size="12.300" fill="#666">25 Nov</text><text transform="translate(1169.9 744.5) rotate(-32.2)" text-anchor="end" y="4.300" font-size="12.300" fill="#666">26 Nov</text><text transform="translate(1210.3 744.5) rotate(-32.2)" text-anchor="end" y="4.300" font-size="12.300" fill="#666">27 Nov</text><text transform="translate(1250.7 744.5) rotate(-32.2)" text-anchor="end" y="4.300" font-size="12.300" fill="#666">28 Nov</text><text transform="translate(1291.1 744.5) rotate(-32.2)" text-anchor="end" y="4.300" font-size="12.300" fill="#666">29 Nov</text><circle cx="1011.700" cy="554" r="8.200" fill="#8b5cf6"/><circle cx="1148.200" cy="554" r="8.200" fill="#667eea"/></svg>
<span id="lg1" class="t" style="left:1024px;top:544px;font-size:13px;line-height:17px;font-weight:normal;color:#666;transform:translate(0.67px,1.00px) scaleX(1.0600);">Handled by Bots</span>
<span id="lg2" class="t" style="left:1162px;top:544px;font-size:13px;line-height:17px;font-weight:normal;color:#666;transform:translate(0.29px,1.00px) scaleX(1.0574);">Total Conversations</span>
<div style="position:absolute;left:63.00px;top:816.00px;width:296.00px;height:115.50px;background:#f9fafb;border-radius:12px"></div>
<span id="s1n" class="t" style="left:82px;top:842px;font-size:33px;line-height:37px;font-weight:bold;color:#151515;transform:translate(0.05px,0.97px) scaleX(1.1594);">28</span>
<span id="s1l" class="t" style="left:83px;top:892px;font-size:13px;line-height:17px;font-weight:normal;color:#566070;transform:translate(0.22px,0.60px) scaleX(1.0793);-webkit-text-stroke:.28px currentColor;">Total Conversations</span>
<div style="position:absolute;left:383.00px;top:816.00px;width:296.00px;height:115.50px;background:#f9fafb;border-radius:12px"></div>
<span id="s2n" class="t" style="left:402px;top:842px;font-size:33px;line-height:37px;font-weight:bold;color:#151515;transform:translate(0.06px,0.97px) scaleX(1.1195);">7</span>
<span id="s2l" class="t" style="left:402px;top:892px;font-size:13px;line-height:17px;font-weight:normal;color:#566070;transform:translate(0.41px,0.60px) scaleX(1.0745);-webkit-text-stroke:.28px currentColor;">Handled by Bots</span>
<div style="position:absolute;left:703.00px;top:816.00px;width:296.00px;height:115.50px;background:#f9fafb;border-radius:12px"></div>
<span id="s3n" class="t" style="left:722px;top:842px;font-size:33px;line-height:37px;font-weight:bold;color:#151515;transform:translate(0.84px,0.97px) scaleX(1.1094);">25,0</span>
<span id="s3l" class="t" style="left:722px;top:892px;font-size:13px;line-height:17px;font-weight:normal;color:#566070;transform:translate(0.41px,0.60px) scaleX(1.0743);-webkit-text-stroke:.28px currentColor;">Bot Automation Rate</span>
<div style="position:absolute;left:1023.00px;top:816.00px;width:296.00px;height:115.50px;background:#f9fafb;border-radius:12px"></div>
<span id="s4n" class="t" style="left:1042px;top:842px;font-size:33px;line-height:37px;font-weight:bold;color:#151515;transform:translate(0.45px,0.97px) scaleX(1.2381);">0</span>
<span id="s4l" class="t" style="left:1042px;top:892px;font-size:13px;line-height:17px;font-weight:normal;color:#566070;transform:translate(0.69px,0.60px) scaleX(1.0702);-webkit-text-stroke:.28px currentColor;">Satisfaction Rate</span>
<span id="s3pc" class="t" style="left:796px;top:854px;font-size:20px;line-height:24px;font-weight:bold;color:#151515;transform:translate(0.97px,0.07px) scaleX(1.0382);">%</span>
<div style="position:absolute;left:31.00px;top:1012.00px;width:1320.00px;height:288.00px;background:#fff;border-radius:16px;box-shadow:0 1px 3px rgba(0,0,0,.05)"></div>
<span id="wa" class="t" style="left:62px;top:1047px;font-size:18px;line-height:22px;font-weight:bold;color:#151515;transform:translate(0.72px,0.06px) scaleX(1.0104);">Connect WhatsApp Business</span>
<span id="wa2" class="t" style="left:62px;top:1073px;font-size:14px;line-height:18px;font-weight:normal;color:#6b7280;transform:translate(0.19px,0.15px) scaleX(1.0505);">Expand your reach with WhatsApp integration</span>
<span id="wa3" class="t" style="left:62px;top:1115px;font-size:14px;line-height:18px;font-weight:normal;color:#5c636f;transform:translate(0.69px,0.15px) scaleX(1.0502);">Connect your WhatsApp Business account to manage customer conversations across multiple channels from a single platform.</span>
<div style="position:absolute;left:63.00px;top:1160.00px;width:201.80px;height:48.00px;background:linear-gradient(115deg,#667eea 0%,#764ba2 100%);border-radius:8px"></div>
<svg style="position:absolute;left:86.60px;top:1175.80px;" width="17.2" height="17.2" viewBox="0 0 24 24"><path d="M22 16.920v3a2 2 0 0 1-2.180 2 19.790 19.790 0 0 1-8.630-3.070 19.500 19.500 0 0 1-6-6 19.790 19.790 0 0 1-3.070-8.670A2 2 0 0 1 4.110 2h3a2 2 0 0 1 2 1.720 12.840 12.840 0 0 0 .7 2.810 2 2 0 0 1-.45 2.110L8.090 9.910a16 16 0 0 0 6 6l1.270-1.270a2 2 0 0 1 2.110-.45 12.840 12.840 0 0 0 2.810.7A2 2 0 0 1 22 16.920z" fill="none" stroke="#fff" stroke-width="1.900" stroke-linecap="round" stroke-linejoin="round"/></svg>
<span id="wb1" class="t" style="left:110px;top:1174px;font-size:14.5px;line-height:18.5px;font-weight:bold;color:#fff;transform:translate(0.71px,0.83px) scaleX(0.9807);">Connect WhatsApp</span>
<div style="position:absolute;left:277.00px;top:1160.00px;width:127.00px;height:48.00px;background:#fff;border:1px solid #e5e7eb;border-radius:8px"></div>
<span id="wb2" class="t" style="left:301px;top:1174px;font-size:14.5px;line-height:18.5px;font-weight:normal;color:#151515;transform:translate(0.50px,0.83px) scaleX(1.0499);-webkit-text-stroke:.28px currentColor;">Learn More</span>
</body>
</html>
